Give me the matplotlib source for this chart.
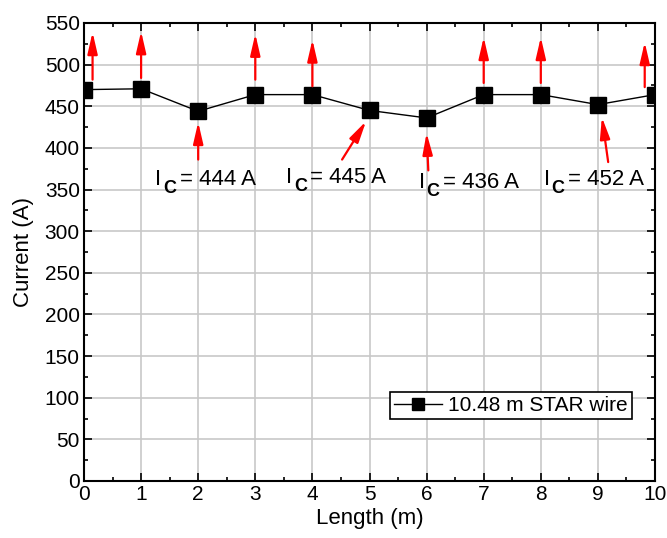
import matplotlib
matplotlib.use("Agg")
import matplotlib.pyplot as plt
from matplotlib.ticker import MultipleLocator

plt.rcParams["font.family"] = ["Liberation Sans", "DejaVu Sans"]

# Data
length = [0, 1, 2, 3, 4, 5, 6, 7, 8, 9, 10]
current = [470, 471, 444, 464, 464, 445, 436, 464, 464, 452, 464]

# arrows pointing up (no quench): x, tail, tip
up_x = [0.15, 1, 3, 4, 7, 8, 9.82]
up_tail = [482, 484, 482, 474, 478, 478, 473]
up_tip = [539, 540, 537, 530, 533, 533, 527]

# arrows pointing at the Ic points
ic_tail_x = [2.0, 4.52, 6.03, 9.18]
ic_tail_y = [386, 386, 373, 383]
ic_tip_x = [2.0, 4.94, 6.0, 9.07]
ic_tip_y = [431, 432, 418, 437]
ic_vals = [444, 445, 436, 452]
ic_label_x = [1.25, 3.54, 5.86, 8.05]
ic_label_y = [362, 364, 358, 362]

fig = plt.figure(figsize=(6.67, 5.38), dpi=100)
ax = fig.add_axes([84 / 667, 57 / 538, 571 / 667, 458 / 538])

ax.plot(length, current, "-", color="black", lw=1, marker="s", ms=11,
        markerfacecolor="black", markeredgecolor="black",
        label="10.48 m STAR wire", zorder=3)

arrow = dict(arrowstyle="-|>,head_width=0.3,head_length=1.3",
             color="red", lw=1.6, shrinkA=0, shrinkB=0)

for x, y0, y1 in zip(up_x, up_tail, up_tip):
    ax.annotate("", xy=(x, y1), xytext=(x, y0), arrowprops=arrow, zorder=4)

for xt, yt, xh, yh in zip(ic_tail_x, ic_tail_y, ic_tip_x, ic_tip_y):
    ax.annotate("", xy=(xh, yh), xytext=(xt, yt), arrowprops=arrow, zorder=4)

# I_C = ... labels: big I, bold subscript C, then the value
for lx, ly, v in zip(ic_label_x, ic_label_y, ic_vals):
    ax.annotate("I", xy=(lx, ly), xytext=(0, 0), textcoords="offset points",
                fontsize=16, ha="left", va="center")
    ax.annotate("C", xy=(lx, ly), xytext=(5.5, -6.5), textcoords="offset points",
                fontsize=13, fontweight="bold", ha="left", va="center")
    ax.annotate(f"= {v} A", xy=(lx, ly), xytext=(17.5, 0),
                textcoords="offset points", fontsize=16, ha="left", va="center")

ax.set_xlim(0, 10)
ax.set_ylim(0, 550)
ax.xaxis.set_major_locator(MultipleLocator(1))
ax.xaxis.set_minor_locator(MultipleLocator(0.5))
ax.yaxis.set_major_locator(MultipleLocator(50))
ax.yaxis.set_minor_locator(MultipleLocator(25))
ax.tick_params(which="both", direction="in", top=True, right=True,
               labelsize=15, width=1.2)
ax.tick_params(which="major", length=6, pad=3)
ax.tick_params(which="minor", length=3)
ax.grid(True, which="major", color="#c8c8c8", lw=1.2)
ax.set_axisbelow(True)
for s in ax.spines.values():
    s.set_linewidth(1.5)

ax.set_xlabel("Length (m)", fontsize=16, labelpad=3)
ax.set_ylabel("Current (A)", fontsize=16, labelpad=8)

leg = ax.legend(loc="lower right", bbox_to_anchor=(0.96, 0.135), fontsize=15,
                fancybox=False, edgecolor="black", framealpha=1,
                handlelength=2.3, handletextpad=0.3, borderpad=0.2,
                borderaxespad=0, markerscale=0.75)
leg.get_frame().set_linewidth(1.2)

fig.savefig("out.png", dpi=100)
